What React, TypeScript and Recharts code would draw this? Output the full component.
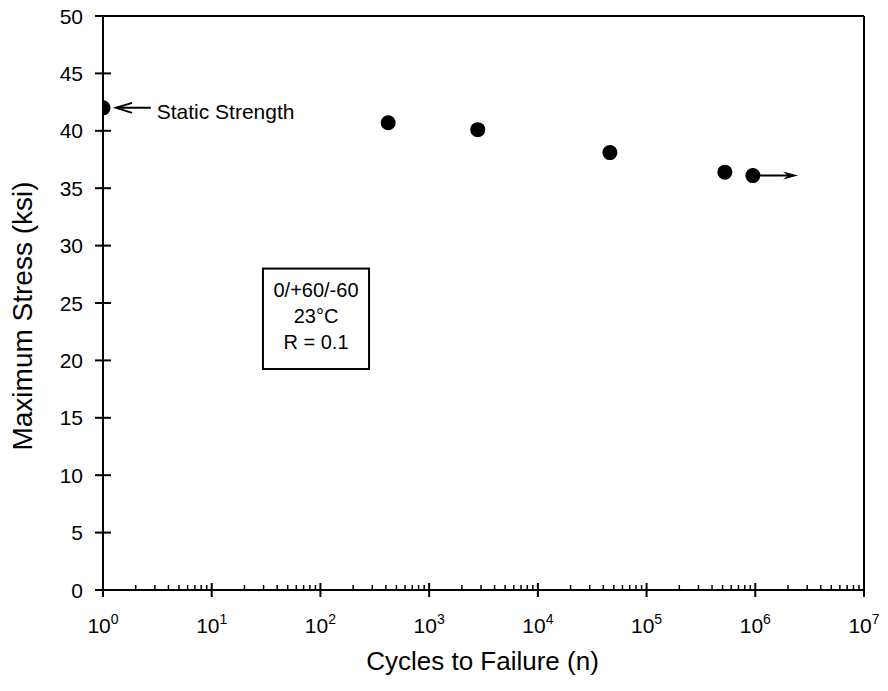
import React from "react";
import {
  ScatterChart,
  Scatter,
  XAxis,
  YAxis,
  ReferenceLine,
  ReferenceArea,
} from "recharts";

// S-N data, 0/+60/-60 laminate
const cycles = [1, 420, 2800, 46000, 525000, 950000];
const maxStress = [42.0, 40.7, 40.1, 38.1, 36.4, 36.1];

const decades = [1, 10, 100, 1000, 1e4, 1e5, 1e6, 1e7];
const minorMultipliers = [2, 3, 4, 5, 6, 7, 8, 9];
const stressTicks = [0, 5, 10, 15, 20, 25, 30, 35, 40, 45, 50];

const boxLines = ["0/+60/-60", "23°C", "R = 0.1"];
const staticLabel = "Static Strength";
const xTitle = "Cycles to Failure (n)";
const yTitle = "Maximum Stress (ksi)";

const FONT = "'Liberation Sans', Arial, Helvetica, sans-serif";

const data = cycles.map((n, i) => ({ n, s: maxStress[i] }));

const xTicks = [
  ...decades,
  ...decades.slice(0, -1).flatMap((d) => minorMultipliers.map((m) => d * m)),
].sort((a, b) => a - b);

function XTick(props: any) {
  const { x, y, payload } = props;
  const exp = Math.log10(payload.value);
  const major = Math.abs(exp - Math.round(exp)) < 1e-6;
  if (!major) {
    return <line x1={x} x2={x} y1={y} y2={y - 5} stroke="#000" strokeWidth={1.5} />;
  }
  return (
    <g>
      <line x1={x} x2={x} y1={y - 7} y2={y + 7} stroke="#000" strokeWidth={2} />
      <text x={x} y={y + 43} textAnchor="middle" fontFamily={FONT} fontSize={21} fill="#000">
        10
        <tspan dy={-9} fontSize={14}>
          {Math.round(exp)}
        </tspan>
      </text>
    </g>
  );
}

function YTick(props: any) {
  const { x, y, payload } = props;
  return (
    <g>
      <line x1={x - 8} x2={x + 8} y1={y} y2={y} stroke="#000" strokeWidth={2} />
      <text x={x - 20} y={y + 7.5} textAnchor="end" fontFamily={FONT} fontSize={21} fill="#000">
        {payload.value}
      </text>
    </g>
  );
}

function XTitle(props: any) {
  const { viewBox } = props;
  return (
    <text
      x={viewBox.x + viewBox.width / 2 - 1}
      y={viewBox.y + 80}
      textAnchor="middle"
      fontFamily={FONT}
      fontSize={26}
      fill="#000"
    >
      {xTitle}
    </text>
  );
}

function YTitle(props: any) {
  const { viewBox } = props;
  const cx = 32;
  const cy = viewBox.y + viewBox.height / 2 + 13;
  return (
    <text
      x={cx}
      y={cy}
      transform={`rotate(-90, ${cx}, ${cy})`}
      textAnchor="middle"
      fontFamily={FONT}
      fontSize={28}
      fill="#000"
    >
      {yTitle}
    </text>
  );
}

function Dot(props: any) {
  const { cx, cy } = props;
  return <circle cx={cx} cy={cy} r={7.5} fill="#000" />;
}

function Arrow(props: any) {
  const { x1, y1, x2, y2 } = props;
  return (
    <g>
      <line x1={x1} y1={y1} x2={x2 - 6} y2={y2} stroke="#000" strokeWidth={2} />
      <path d={`M${x2},${y2} L${x2 - 15},${y2 - 4} L${x2 - 10},${y2} L${x2 - 15},${y2 + 4} Z`} fill="#000" />
    </g>
  );
}

function StaticArrow(props: any) {
  const { x1, y1, x2, y2 } = props;
  return (
    <g>
      <line x1={x1} y1={y1} x2={x2} y2={y2} stroke="#000" strokeWidth={2} />
      <path
        d={`M${x2 + 16},${y2 - 5} L${x2},${y2} L${x2 + 16},${y2 + 5}`}
        fill="none"
        stroke="#000"
        strokeWidth={2}
      />
      <text x={x1 + 6} y={y1 + 11} fontFamily={FONT} fontSize={21} fill="#000">
        {staticLabel}
      </text>
    </g>
  );
}

function InfoBox(props: any) {
  const { x, y, width, height } = props;
  return (
    <g>
      <rect x={x} y={y} width={width} height={height} fill="#fff" stroke="#000" strokeWidth={2} />
      {boxLines.map((t, i) => (
        <text
          key={i}
          x={x + width / 2}
          y={y + 28 + i * 26}
          textAnchor="middle"
          fontFamily={FONT}
          fontSize={20}
          fill="#000"
        >
          {t}
        </text>
      ))}
    </g>
  );
}

export default function App() {
  return (
    <div style={{ width: 888, height: 691, background: "#fff" }}>
      <style>{"body{margin:0}"}</style>
      <ScatterChart width={888} height={691} margin={{ top: 16, right: 24, bottom: 41, left: 43 }}>
        <XAxis
          type="number"
          dataKey="n"
          scale="log"
          domain={[1, 1e7]}
          ticks={xTicks}
          interval={0}
          allowDataOverflow
          height={60}
          tickSize={0}
          tickMargin={0}
          tickLine={false}
          tick={<XTick />}
          axisLine={{ stroke: "#000", strokeWidth: 2 }}
          label={<XTitle />}
        />
        <YAxis
          type="number"
          dataKey="s"
          domain={[0, 50]}
          ticks={stressTicks}
          interval={0}
          width={60}
          tickSize={0}
          tickMargin={0}
          tickLine={false}
          tick={<YTick />}
          axisLine={{ stroke: "#000", strokeWidth: 2 }}
          label={<YTitle />}
        />
        <ReferenceLine y={50} stroke="#000" strokeWidth={2} />
        <ReferenceLine x={1e7} stroke="#000" strokeWidth={2} />
        <ReferenceArea x1={29.6} x2={280} y1={19.25} y2={28} shape={<InfoBox />} />
        <ReferenceLine
          segment={[
            { x: 2.75, y: 42 },
            { x: 1.32, y: 42 },
          ]}
          shape={<StaticArrow />}
        />
        <ReferenceLine
          segment={[
            { x: 1.02e6, y: 36.1 },
            { x: 2.47e6, y: 36.1 },
          ]}
          shape={<Arrow />}
        />
        <Scatter data={data} shape={<Dot />} isAnimationActive={false} />
      </ScatterChart>
    </div>
  );
}
